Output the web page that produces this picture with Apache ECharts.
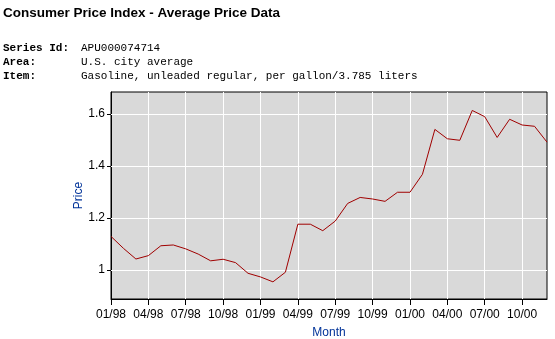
<!DOCTYPE html>
<html><head><meta charset="utf-8">
<script src="https://cdn.jsdelivr.net/npm/echarts@6/dist/echarts.min.js"></script>
<style>html,body{margin:0;padding:0;background:#fff}#c{width:555px;height:339px}</style>
</head><body><div id="c"></div>
<script>
const months = ["01/98","02/98","03/98","04/98","05/98","06/98","07/98","08/98","09/98","10/98","11/98","12/98",
"01/99","02/99","03/99","04/99","05/99","06/99","07/99","08/99","09/99","10/99","11/99","12/99",
"01/00","02/00","03/00","04/00","05/00","06/00","07/00","08/00","09/00","10/00","11/00","12/00"];
const prices = [1.129,1.083,1.042,1.055,1.093,1.096,1.081,1.061,1.035,1.041,1.028,0.987,
0.973,0.954,0.991,1.176,1.176,1.151,1.188,1.256,1.279,1.273,1.264,1.299,
1.299,1.368,1.541,1.505,1.499,1.614,1.590,1.510,1.580,1.558,1.553,1.492];
const yTicks = [1.0,1.2,1.4,1.6];
const titleText = "Consumer Price Index - Average Price Data";
const metaLabels = ["Series Id:","Area:","Item:"];
const metaValues = ["APU000074714","U.S. city average","Gasoline, unleaded regular, per gallon/3.785 liters"];

const chart = echarts.init(document.getElementById('c'));
const graphics = [];
metaLabels.forEach((l,i)=>{
  graphics.push({type:'text',left:3,top:43+i*14,style:{text:l,font:'bold 11px "Liberation Mono"',fill:'#000'}});
  graphics.push({type:'text',left:81,top:43+i*14,style:{text:metaValues[i],font:'11px "Liberation Mono"',fill:'#000'}});
});
chart.setOption({
  animation:false,
  title:{text:titleText,left:3,top:6,padding:0,textStyle:{fontFamily:'Liberation Sans',fontSize:13.5,fontWeight:'bold',color:'#000'}},
  graphic:graphics,
  grid:{left:111,right:8,top:92,bottom:40,outerBoundsMode:'none',containLabel:false,show:true,backgroundColor:'#d9d9d9',borderColor:'#000',borderWidth:1},
  xAxis:{type:'category',data:months,boundaryGap:false,
    name:'Month',nameLocation:'middle',nameGap:28,nameMoveOverlap:false,nameTextStyle:{color:'#003399',fontFamily:'Liberation Sans',fontSize:12},
    axisLine:{lineStyle:{color:'#000'}},
    axisTick:{interval:2,length:6,lineStyle:{color:'#000'}},
    axisLabel:{interval:2,margin:10,color:'#000',fontFamily:'Liberation Sans',fontSize:12},
    splitLine:{show:true,interval:2,lineStyle:{color:'#fff',width:1}}},
  yAxis:{type:'value',min:0.888,max:1.685,
    name:'Price',nameLocation:'middle',nameGap:26,nameMoveOverlap:false,nameTextStyle:{color:'#003399',fontFamily:'Liberation Sans',fontSize:12},
    axisLine:{show:true,lineStyle:{color:'#000'}},
    axisTick:{show:true,length:4,customValues:yTicks,lineStyle:{color:'#000'}},
    axisLabel:{customValues:yTicks,margin:6,color:'#000',fontFamily:'Liberation Sans',fontSize:12,formatter:v=>String(Math.round(v*10)/10)},
    splitLine:{show:true,lineStyle:{color:'#fff',width:1}}},
  series:[{type:'line',data:prices,symbol:'none',lineStyle:{color:'#a00000',width:1},
    markLine:{silent:true,symbol:'none',label:{show:false},lineStyle:{color:'#fff',type:'solid',width:1},z:1,
      data:yTicks.map(v=>({yAxis:v}))}}]
});
</script></body></html>
